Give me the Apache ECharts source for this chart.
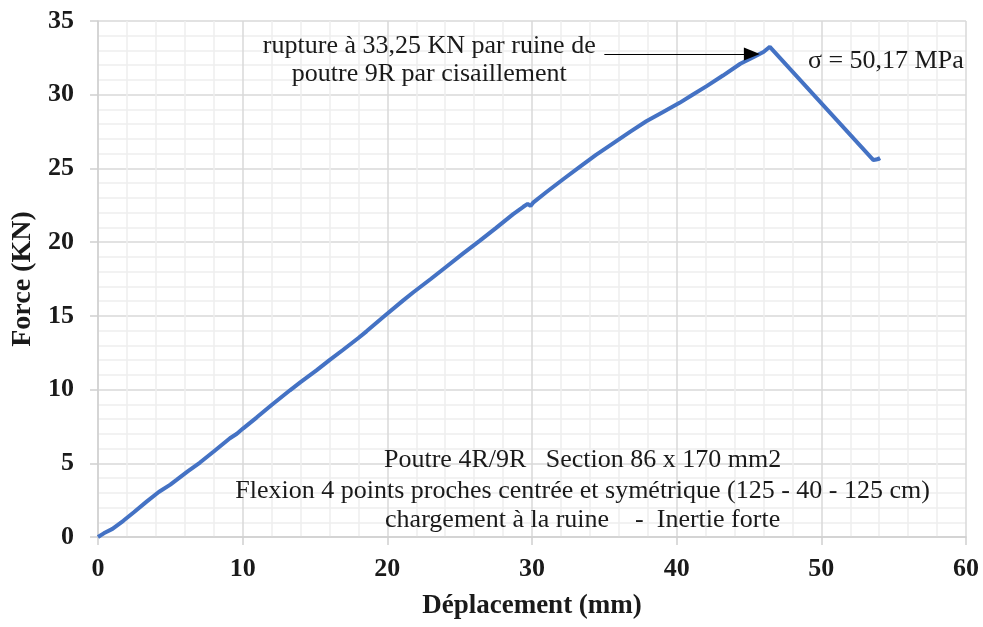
<!DOCTYPE html>
<html>
<head>
<meta charset="utf-8">
<script src="https://cdn.jsdelivr.net/npm/echarts@6/dist/echarts.min.js"></script>
<style>
html,body{margin:0;padding:0;background:#fff;}
#c{width:983px;height:627px;}
</style>
</head>
<body>
<div id="c"></div>
<script>
// Displacement (mm)
var dispMm = [0, 0.4, 1, 1.75, 2.5, 3.36, 4.2, 5.0, 5.43, 6.2, 7.05, 8, 9.12, 9.6, 10.04, 10.96, 12, 13.27, 14, 15.1, 16, 16.95, 18, 18.56, 19.7, 21.1, 21.8, 23, 24.1, 25.2, 26.4, 27.5, 28.7, 29.4, 29.7, 29.9, 30.1, 31.0, 32.2, 33.3, 34.4, 35.6, 36.8, 37.9, 39.0, 40.2, 41.1, 42.1, 43.2, 44.4, 45.4, 46.0, 46.44, 53.6, 53.8, 54.05, 53.9];
// Force (KN)
var forceKN = [0, 0.25, 0.55, 1.1, 1.7, 2.4, 3.05, 3.55, 3.87, 4.45, 5.05, 5.8, 6.7, 7.0, 7.37, 8.1, 8.95, 9.95, 10.5, 11.3, 12.0, 12.7, 13.5, 13.95, 14.9, 16.05, 16.6, 17.5, 18.35, 19.2, 20.1, 20.95, 21.9, 22.4, 22.6, 22.45, 22.7, 23.4, 24.3, 25.1, 25.9, 26.7, 27.5, 28.2, 28.8, 29.45, 30.0, 30.6, 31.3, 32.1, 32.6, 32.9, 33.25, 25.57, 25.6, 25.7, 25.6];

var xTicks = [0, 10, 20, 30, 40, 50, 60];
var yTicks = [0, 5, 10, 15, 20, 25, 30, 35];

var arrowFrom = [35.0, 32.77];
var arrowTo = [45.2, 32.77];

var noteTop = ["rupture à 33,25 KN par ruine de", "poutre 9R par cisaillement"];
var noteTopAt = [[22.9, 33.32], [22.9, 31.41]];
var noteSigma = "σ = 50,17 MPa";
var noteSigmaAt = [49.07, 32.3];
var noteBottom = ["Poutre 4R/9R   Section 86 x 170 mm2",
                  "Flexion 4 points proches centrée et symétrique (125 - 40 - 125 cm)",
                  "chargement à la ruine    -  Inertie forte"];
var noteBottomAt = [[33.5, 5.24], [33.5, 3.14], [33.5, 1.17]];

var FONT = '"Liberation Serif", "Times New Roman", serif';
var pts = dispMm.map(function (x, i) { return [x, forceKN[i]]; });

var chart = echarts.init(document.getElementById('c'));
chart.setOption({
  animation: false,
  backgroundColor: '#ffffff',
  grid: { left: 98, right: 17, top: 21, bottom: 90 },
  xAxis: {
    type: 'value', min: xTicks[0], max: xTicks[xTicks.length - 1], interval: 10,
    name: 'Déplacement (mm)', nameLocation: 'middle', nameGap: 56,
    nameTextStyle: { fontFamily: FONT, fontWeight: 'bold', fontSize: 27, color: '#1a1a1a' },
    axisLine: { show: true, lineStyle: { color: '#d0d0d0', width: 1.5 } },
    axisTick: { show: true, length: 8, lineStyle: { color: '#d0d0d0', width: 1.5 } },
    minorTick: { show: false, splitNumber: 5 },
    axisLabel: { fontFamily: FONT, fontWeight: 'bold', fontSize: 26, color: '#1a1a1a', margin: 19 },
    splitLine: { show: true, lineStyle: { color: '#d9d9d9', width: 1.5 } },
    minorSplitLine: { show: true, lineStyle: { color: '#eeeeee', width: 1.5 } }
  },
  yAxis: {
    type: 'value', min: yTicks[0], max: yTicks[yTicks.length - 1], interval: 5,
    name: 'Force (KN)', nameLocation: 'middle', nameGap: 56, nameRotate: 90,
    nameTextStyle: { fontFamily: FONT, fontWeight: 'bold', fontSize: 28, color: '#1a1a1a' },
    axisLine: { show: true, lineStyle: { color: '#d0d0d0', width: 1.5 } },
    axisTick: { show: true, length: 8, lineStyle: { color: '#d0d0d0', width: 1.5 } },
    minorTick: { show: false, splitNumber: 5 },
    axisLabel: { fontFamily: FONT, fontWeight: 'bold', fontSize: 26, color: '#1a1a1a', margin: 24 },
    splitLine: { show: true, lineStyle: { color: '#d9d9d9', width: 1.5 } },
    minorSplitLine: { show: true, lineStyle: { color: '#eeeeee', width: 1.5 } }
  },
  series: [{
    type: 'line',
    data: pts,
    showSymbol: false,
    smooth: false,
    lineStyle: { color: '#4472C4', width: 4 },
    itemStyle: { color: '#4472C4' },
    markLine: {
      silent: true,
      symbol: ['none', 'triangle'],
      symbolSize: [13, 16],
      label: { show: false },
      lineStyle: { color: '#000000', width: 1.2, type: 'solid' },
      data: [[{ coord: arrowFrom }, { coord: arrowTo }]]
    }
  }]
});

function px(p) { return chart.convertToPixel({ gridIndex: 0 }, p); }
var g = [];
noteTop.forEach(function (t, i) {
  var p = px(noteTopAt[i]);
  g.push({ type: 'text', x: p[0], y: p[1], style: { text: t, font: '26px ' + FONT, fill: '#1a1a1a', align: 'center', verticalAlign: 'middle' } });
});
var ps = px(noteSigmaAt);
g.push({ type: 'text', x: ps[0], y: ps[1], style: { text: noteSigma, font: '26px ' + FONT, fill: '#1a1a1a', align: 'left', verticalAlign: 'middle' } });
noteBottom.forEach(function (t, i) {
  var p = px(noteBottomAt[i]);
  g.push({ type: 'text', x: p[0], y: p[1], style: { text: t, font: '26px ' + FONT, fill: '#1a1a1a', align: 'center', verticalAlign: 'middle' } });
});
chart.setOption({ graphic: g });
</script>
</body>
</html>
